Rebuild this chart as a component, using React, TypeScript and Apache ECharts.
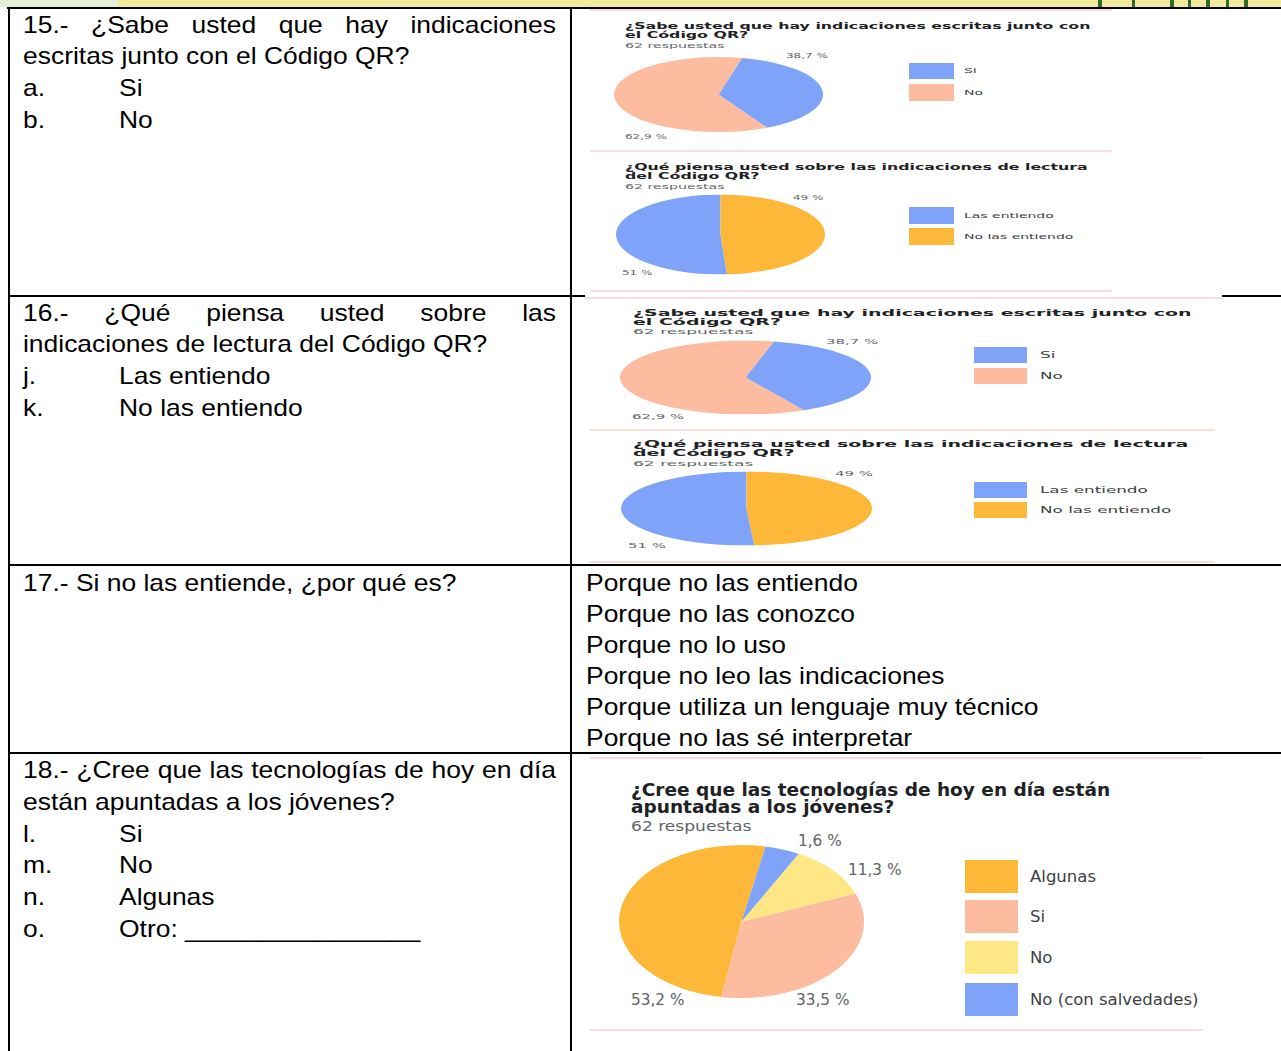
import React, { useEffect, useRef } from 'react';
import * as echarts from 'echarts';

// ---------------- data ----------------
const q15Categories = ['Si', 'No'];
const q15Shares = [38.7, 61.3];
const q15PercentLabels = ['38,7 %', '62,9 %'];
const q15Colors = ['#7ea3f8', '#fdbb9f'];

const q16Categories = ['Las entiendo', 'No las entiendo'];
const q16Shares = [51, 49];
const q16PercentLabels = ['51 %', '49 %'];
const q16Colors = ['#7ea3f8', '#fdb83a'];

const q18Categories = ['Algunas', 'Si', 'No', 'No (con salvedades)'];
const q18Shares = [50.5, 33.6, 11.3, 4.6];
const q18PercentLabels = ['53,2 %', '33,5 %', '11,3 %', '1,6 %'];
const q18Colors = ['#fdb83a', '#fdbb9f', '#fee784', '#7ea3f8'];

const q15Title = ['¿Sabe usted que hay indicaciones escritas junto con', 'el Código QR?'];
const q16Title = ['¿Qué piensa usted sobre las indicaciones de lectura', 'del Código QR?'];
const q18Title = ['¿Cree que las tecnologías de hoy en día están', 'apuntadas a los jóvenes?'];
const responsesLabel = '62 respuestas';

const q15Question = ['15.- ¿Sabe usted que hay indicaciones', 'escritas junto con el Código QR?'];
const q15Options = [['a.', 'Si'], ['b.', 'No']];
const q16Question = ['16.- ¿Qué piensa usted sobre las', 'indicaciones de lectura del Código QR?'];
const q16Options = [['j.', 'Las entiendo'], ['k.', 'No las entiendo']];
const q17Question = '17.- Si no las entiende, ¿por qué es?';
const q17Reasons = [
  'Porque no las entiendo',
  'Porque no las conozco',
  'Porque no lo uso',
  'Porque no leo las indicaciones',
  'Porque utiliza un lenguaje muy técnico',
  'Porque no las sé interpretar',
];
const q18Question = ['18.- ¿Cree que las tecnologías de hoy en día', 'están apuntadas a los jóvenes?'];
const q18Options = [['l.', 'Si'], ['m.', 'No'], ['n.', 'Algunas'], ['o.', 'Otro: ________________']];

// ---------------- helpers ----------------
const BODY_FAMILY = "'Liberation Sans', Arial, sans-serif";
const BODY_SIZE = 23;
const BODY_SX = 1.15;
const CHART_FAMILY = "'DejaVu Sans', sans-serif";

let measureCtx: CanvasRenderingContext2D | null = null;
function measure(t: string, size: number, family: string, weight = 'normal') {
  if (!measureCtx) measureCtx = document.createElement('canvas').getContext('2d');
  measureCtx!.font = `${weight} ${size}px ${family}`;
  return measureCtx!.measureText(t).width;
}

function txt(x: number, y: number, text: string, o: any = {}) {
  return {
    type: 'text',
    x,
    y,
    scaleX: o.sx ?? 1,
    scaleY: o.sy ?? 1,
    silent: true,
    z: 10,
    style: {
      text,
      fill: o.color ?? '#000',
      fontSize: o.size ?? BODY_SIZE,
      fontFamily: o.family ?? BODY_FAMILY,
      fontWeight: o.weight ?? 'normal',
      align: o.align ?? 'left',
      verticalAlign: 'middle',
    },
  };
}

function body(x: number, y: number, text: string) {
  return txt(x, y, text, { sx: BODY_SX });
}

function justified(x0: number, x1: number, y: number, line: string) {
  const words = line.split(' ');
  const widths = words.map((w) => measure(w, BODY_SIZE, BODY_FAMILY) * BODY_SX);
  const total = widths.reduce((a, b) => a + b, 0);
  const gap = (x1 - x0 - total) / (words.length - 1);
  let x = x0;
  return words.map((w, i) => {
    const e = body(x, y, w);
    x += widths[i] + gap;
    return e;
  });
}

function hline(x1: number, x2: number, y: number, color = '#000', w = 2) {
  return { type: 'line', silent: true, z: 5, shape: { x1, y1: y, x2, y2: y }, style: { stroke: color, lineWidth: w } };
}
function vline(x: number, y1: number, y2: number, color = '#000', w = 2) {
  return { type: 'line', silent: true, z: 5, shape: { x1: x, y1, x2: x, y2 }, style: { stroke: color, lineWidth: w } };
}
function rect(x: number, y: number, width: number, height: number, fill: string, z = 3) {
  return { type: 'rect', silent: true, z, shape: { x, y, width, height }, style: { fill } };
}

type PanelCfg = {
  title: string[];
  titleX: number;
  titleY: number[];
  titleSize: number;
  subY: number;
  subSize: number;
  sy: number;
  categories: string[];
  colors: string[];
  labels: string[];
  labelPos: number[][];
  labelSize: number;
  legendRects: number[][];
  legendTextX: number;
  legendSize: number;
  legendSy: number;
};

function panel(c: PanelCfg) {
  const els: any[] = [];
  c.title.forEach((t, i) =>
    els.push(txt(c.titleX, c.titleY[i], t, { family: CHART_FAMILY, size: c.titleSize, weight: 'bold', color: '#202124', sx: 1.09, sy: c.sy }))
  );
  els.push(txt(c.titleX, c.subY, responsesLabel, { family: CHART_FAMILY, size: c.subSize, color: '#5f6368', sx: 1.18, sy: c.sy }));
  c.labels.forEach((t, i) =>
    els.push(txt(c.labelPos[i][0], c.labelPos[i][1], t, { family: CHART_FAMILY, size: c.labelSize, color: '#5f6368', sy: c.sy }))
  );
  c.categories.forEach((name, i) => {
    const r = c.legendRects[i];
    els.push(rect(r[0], r[1], r[2], r[3], c.colors[i], 6));
    els.push(txt(c.legendTextX, r[1] + r[3] / 2, name, { family: CHART_FAMILY, size: c.legendSize, color: '#3c4043', sx: c.legendSy >= 1 ? 1.08 : 1, sy: c.legendSy }));
  });
  return els;
}

function buildGraphic() {
  const g: any[] = [];
  // decorative top strip
  g.push(rect(0, 0, 1281, 7, '#f1ea9c', 1));
  g.push(rect(0, 0, 118, 7, '#e3efd6', 1));
  [1098, 1132, 1170, 1188, 1206, 1226, 1244].forEach((x, i) =>
    g.push(rect(x, 0, i % 2 ? 3 : 4, 7, '#2f6a2c', 2))
  );

  // table borders
  g.push(hline(7, 1281, 8));
  g.push(vline(9, 7, 1051));
  g.push(vline(571, 7, 1051));
  g.push(hline(8, 585, 296));
  g.push(hline(1222, 1281, 296));
  g.push(hline(8, 1281, 565));
  g.push(hline(8, 1281, 753));

  // pink separators of the form screenshots
  const pink = '#f8d3d3';
  g.push(hline(590, 1112, 10, pink, 1.5));
  g.push(hline(590, 1112, 151, pink, 1.5));
  g.push(hline(590, 1112, 291, pink, 1.5));
  g.push(hline(585, 1222, 298, pink, 1.5));
  g.push(hline(590, 1215, 430, pink, 1.5));
  g.push(hline(590, 1215, 562, pink, 1.5));
  g.push(hline(590, 1203, 758, pink, 1.5));
  g.push(hline(590, 1203, 1030, pink, 1.5));

  // left column: question 15
  g.push(...justified(23, 556, 25.5, q15Question[0]));
  g.push(body(23, 56.5, q15Question[1]));
  q15Options.forEach((o, i) => {
    g.push(body(23, 88.5 + i * 31.8, o[0]));
    g.push(body(119, 88.5 + i * 31.8, o[1]));
  });
  // question 16
  g.push(...justified(23, 556, 313.5, q16Question[0]));
  g.push(body(23, 344.5, q16Question[1]));
  q16Options.forEach((o, i) => {
    g.push(body(23, 376.5 + i * 31.8, o[0]));
    g.push(body(119, 376.5 + i * 31.8, o[1]));
  });
  // question 17
  g.push(body(23, 583, q17Question));
  q17Reasons.forEach((r, i) => g.push(body(586, 583 + i * 31.1, r)));
  // question 18
  g.push(...justified(23, 556, 770, q18Question[0]));
  g.push(body(23, 802, q18Question[1]));
  q18Options.forEach((o, i) => {
    g.push(body(23, 833.7 + i * 31.9, o[0]));
    g.push(body(119, 833.7 + i * 31.9, o[1]));
  });

  // chart panels
  g.push(
    ...panel({
      title: q15Title, titleX: 625, titleY: [26, 35], titleSize: 14.5, subY: 45.5, subSize: 12, sy: 0.6,
      categories: q15Categories, colors: q15Colors, labels: q15PercentLabels,
      labelPos: [[786, 55], [625, 136]], labelSize: 12,
      legendRects: [[909, 63, 45, 16], [909, 84, 45, 17]], legendTextX: 964, legendSize: 14, legendSy: 0.55,
    })
  );
  g.push(
    ...panel({
      title: q16Title, titleX: 625, titleY: [167, 176], titleSize: 14.5, subY: 186.5, subSize: 12, sy: 0.6,
      categories: q16Categories, colors: q16Colors, labels: q16PercentLabels,
      labelPos: [[622, 272], [793, 197]], labelSize: 12,
      legendRects: [[909, 207, 45, 17], [909, 228, 45, 17]], legendTextX: 964, legendSize: 14, legendSy: 0.55,
    })
  );
  g.push(
    ...panel({
      title: q15Title, titleX: 633, titleY: [313, 322], titleSize: 17.4, subY: 332, subSize: 14.5, sy: 0.5,
      categories: q15Categories, colors: q15Colors, labels: q15PercentLabels,
      labelPos: [[826, 341], [632, 416]], labelSize: 15,
      legendRects: [[974, 347, 53, 16], [974, 368, 53, 16]], legendTextX: 1040, legendSize: 16.8, legendSy: 0.5,
    })
  );
  g.push(
    ...panel({
      title: q16Title, titleX: 633, titleY: [444, 453], titleSize: 17.4, subY: 463.5, subSize: 14.5, sy: 0.5,
      categories: q16Categories, colors: q16Colors, labels: q16PercentLabels,
      labelPos: [[628, 545], [835, 473]], labelSize: 15,
      legendRects: [[974, 482, 53, 16], [974, 502, 53, 16]], legendTextX: 1040, legendSize: 16.8, legendSy: 0.5,
    })
  );
  g.push(
    ...panel({
      title: q18Title, titleX: 631, titleY: [790, 807], titleSize: 17, subY: 826, subSize: 14.5, sy: 1.0,
      categories: q18Categories, colors: q18Colors, labels: q18PercentLabels,
      labelPos: [[631, 1000], [796, 1000], [848, 870], [798, 841]], labelSize: 15.3,
      legendRects: [[965, 860, 53, 33], [965, 900, 53, 33], [965, 941, 53, 33], [965, 983, 53, 33]],
      legendTextX: 1030, legendSize: 15.3, legendSy: 1.0,
    })
  );
  return g;
}

function Page() {
  const ref = useRef<HTMLDivElement>(null);
  useEffect(() => {
    const chart = echarts.init(ref.current!, null, { renderer: 'svg' });
    chart.setOption({ animation: false, graphic: { elements: buildGraphic() } });
    return () => chart.dispose();
  }, []);
  return <div ref={ref} style={{ position: 'absolute', left: 0, top: 0, width: 1281, height: 1051 }} />;
}

type PieProps = {
  cx: number; cy: number; rx: number; ry: number;
  names: string[]; values: number[]; colors: string[];
  startAngle: number; clockwise: boolean;
};

function EllipsePie(p: PieProps) {
  const ref = useRef<HTMLDivElement>(null);
  useEffect(() => {
    const chart = echarts.init(ref.current!, null, { renderer: 'svg' });
    chart.setOption({
      animation: false,
      series: [
        {
          type: 'pie',
          radius: ['0%', '100%'],
          center: ['50%', '50%'],
          startAngle: p.startAngle,
          clockwise: p.clockwise,
          silent: true,
          label: { show: false },
          labelLine: { show: false },
          itemStyle: { borderWidth: 0 },
          data: p.names.map((n, i) => ({ name: n, value: p.values[i], itemStyle: { color: p.colors[i] } })),
        },
      ],
    });
    return () => chart.dispose();
  }, []);
  return (
    <div
      ref={ref}
      style={{
        position: 'absolute',
        left: p.cx - p.rx,
        top: p.cy - p.rx,
        width: 2 * p.rx,
        height: 2 * p.rx,
        transform: `scaleY(${p.ry / p.rx})`,
        transformOrigin: '50% 50%',
      }}
    />
  );
}

export default function App() {
  return (
    <div style={{ position: 'absolute', left: 0, top: 0, width: 1281, height: 1051, background: '#fff', overflow: 'hidden' }}>
      <Page />
      <EllipsePie cx={718} cy={94} rx={104.5} ry={37.5} names={q15Categories} values={q15Shares} colors={q15Colors} startAngle={77} clockwise={true} />
      <EllipsePie cx={720} cy={234} rx={104.5} ry={40} names={q16Categories} values={q16Shares} colors={q16Colors} startAngle={90} clockwise={false} />
      <EllipsePie cx={745.5} cy={377} rx={125.5} ry={37} names={q15Categories} values={q15Shares} colors={q15Colors} startAngle={77} clockwise={true} />
      <EllipsePie cx={746.5} cy={508} rx={125.5} ry={37} names={q16Categories} values={q16Shares} colors={q16Colors} startAngle={90} clockwise={false} />
      <EllipsePie cx={741.5} cy={921} rx={122.5} ry={76.5} names={q18Categories} values={q18Shares} colors={q18Colors} startAngle={78.7} clockwise={false} />
    </div>
  );
}
